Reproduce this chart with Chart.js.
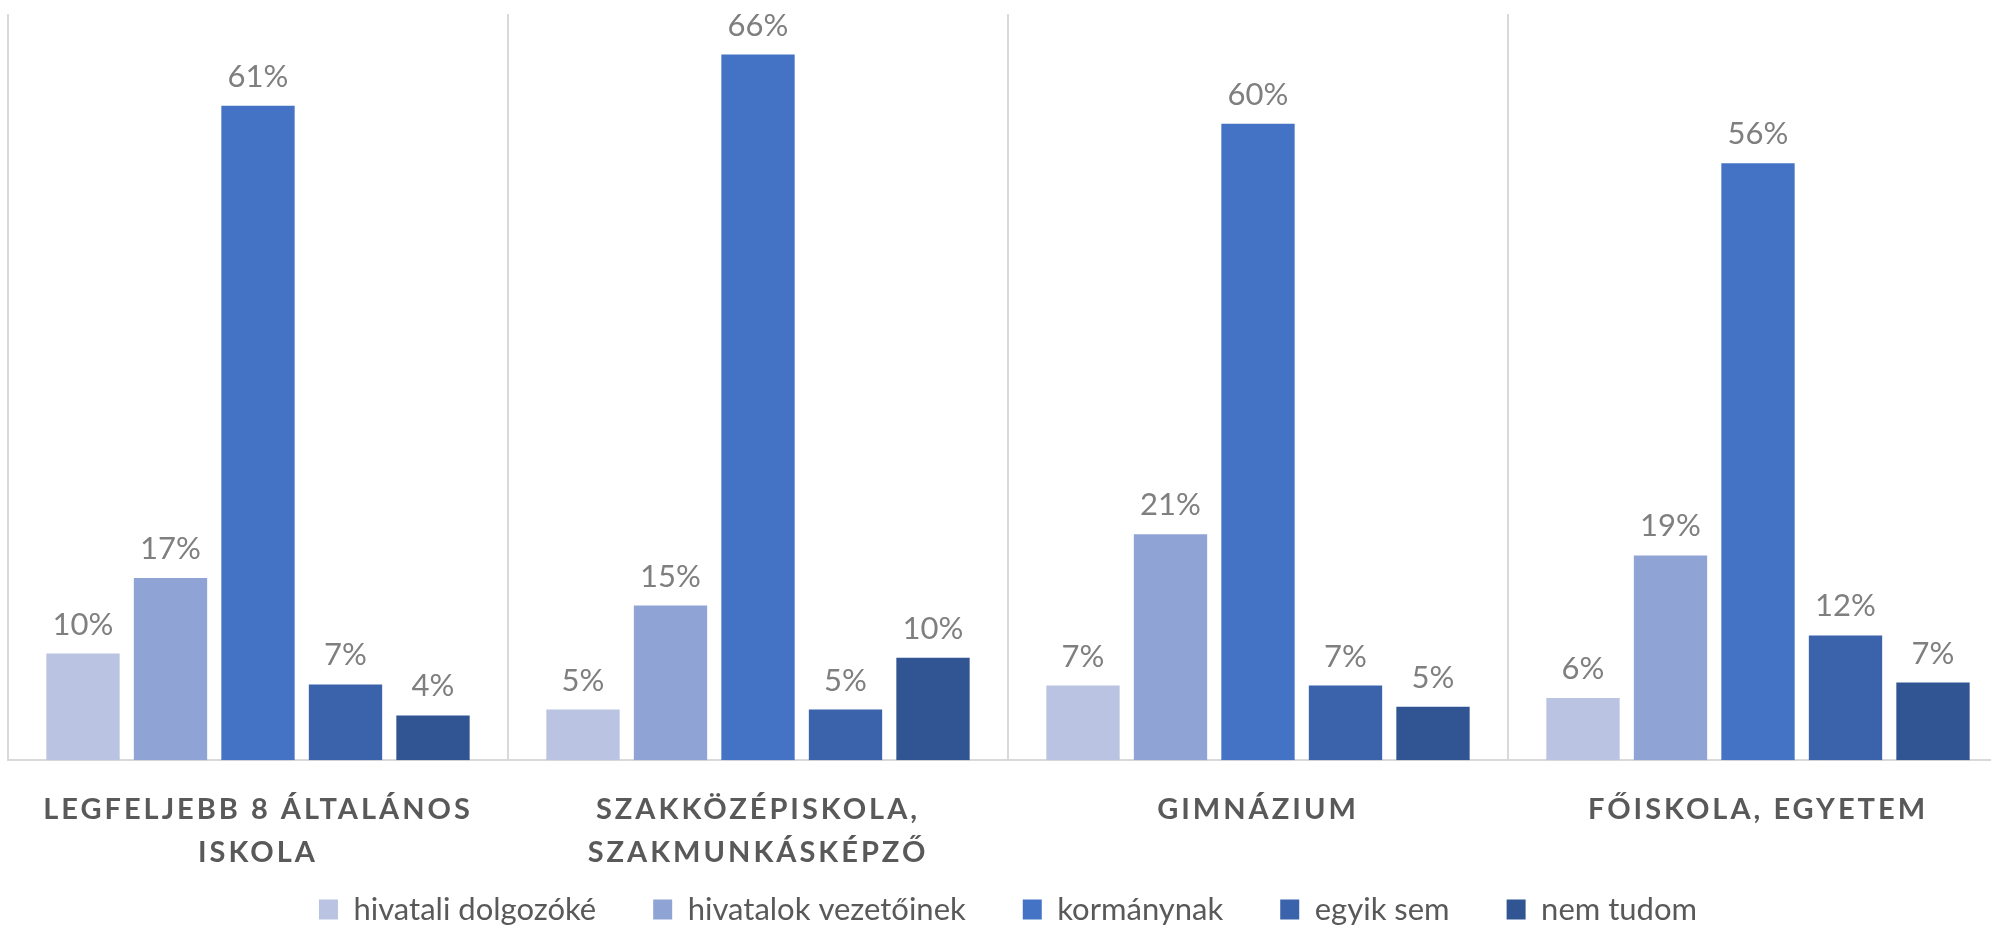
<!DOCTYPE html>
<html><head><meta charset="utf-8">
<script src="https://cdn.jsdelivr.net/npm/chart.js@4/dist/chart.umd.min.js"></script>
<style>
html,body{margin:0;padding:0;background:#fff;overflow:hidden;width:1991px;height:930px}
#wrap{position:absolute;left:0;top:0;width:2016px;height:930px}
</style>
</head><body><div id="wrap"><canvas id="c" width="2016" height="930"></canvas></div>
<script>
const categories = [["LEGFELJEBB 8 ÁLTALÁNOS","ISKOLA"],["SZAKKÖZÉPISKOLA,","SZAKMUNKÁSKÉPZŐ"],"GIMNÁZIUM","FŐISKOLA, EGYETEM"];
const seriesNames = ["hivatali dolgozóké","hivatalok vezetőinek","kormánynak","egyik sem","nem tudom"];
const hivataliDolgozoke = [10.0, 4.75, 7.0, 5.84];
const hivatalokVezetoinek = [17.1, 14.5, 21.2, 19.2];
const kormanynak = [61.4, 66.2, 59.7, 56.0];
const egyikSem = [7.1, 4.75, 7.0, 11.7];
const nemTudom = [4.2, 9.6, 5.0, 7.28];
const seriesColors = ["#BAC4E2","#8FA4D4","#4472C4","#3B63AC","#315592"];
const yMin = 0, yMax = 70;

const seriesValues = [hivataliDolgozoke, hivatalokVezetoinek, kormanynak, egyikSem, nemTudom];

const valueLabels = {
  id: 'valueLabels',
  afterDatasetsDraw(chart) {
    const ctx = chart.ctx;
    ctx.save();
    ctx.font = '31px Lato';
    ctx.fillStyle = '#7F7F7F';
    ctx.textAlign = 'center';
    ctx.textBaseline = 'alphabetic';
    chart.data.datasets.forEach((ds, i) => {
      const meta = chart.getDatasetMeta(i);
      meta.data.forEach((bar, j) => {
        ctx.fillText(Math.round(ds.data[j]) + '%', bar.x, bar.y - 19);
      });
    });
    ctx.restore();
  }
};

const spacedTicks = {
  id: 'spacedTicks',
  afterLayout(chart) {
    const sc = chart.scales.x;
    if (sc._patched) return;
    const orig = sc.drawLabels;
    sc._computeLabelArea = function() { return undefined; };
    sc.drawLabels = function(area) {
      const ctx = this.ctx;
      ctx.save();
      ctx.letterSpacing = '3px';
      orig.call(this, area);
      ctx.restore();
    };
    sc._patched = true;
  }
};

new Chart(document.getElementById('c'), {
  type: 'bar',
  data: {
    labels: categories,
    datasets: seriesNames.map((n, i) => ({
      label: n,
      data: seriesValues[i],
      backgroundColor: seriesColors[i],
      borderWidth: 0,
      categoryPercentage: 0.875,
      barPercentage: 0.838
    }))
  },
  options: {
    responsive: false,
    animation: false,
    devicePixelRatio: 1,
    layout: { padding: { left: 8, right: 8, top: 14, bottom: -5 } },
    plugins: {
      tooltip: { enabled: false },
      legend: {
        position: 'bottom',
        labels: {
          font: { family: 'Lato', size: 31 },
          color: '#595959',
          boxWidth: 19,
          boxHeight: 20,
          padding: 57
        }
      }
    },
    scales: {
      x: {
        afterFit(scale) { scale.height -= 65; },
        grid: { display: true, color: '#D9D9D9', lineWidth: 2, drawTicks: false, offset: true },
        border: { display: true, color: '#D9D9D9', width: 2 },
        ticks: {
          autoSkip: false, maxRotation: 0, minRotation: 0,
          padding: 28,
          color: '#595959',
          font: { family: 'Lato', size: 29, weight: 'bold', lineHeight: 1.48 }
        }
      },
      y: {
        display: false,
        min: yMin, max: yMax
      }
    }
  },
  plugins: [valueLabels, spacedTicks]
});
</script>
</body></html>
